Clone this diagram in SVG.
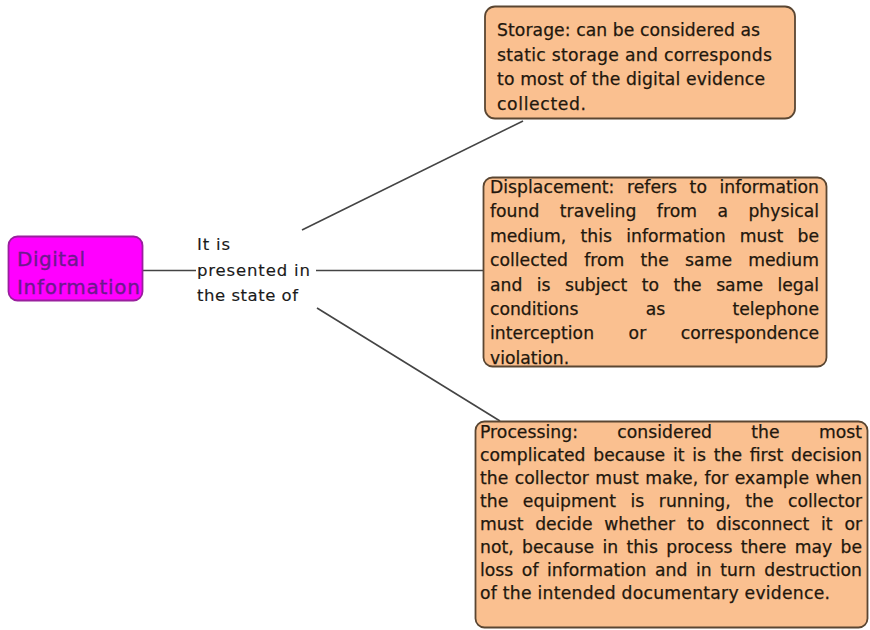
<svg xmlns="http://www.w3.org/2000/svg" width="870" height="630" viewBox="0 0 870 630">
  <style>
    .bg { fill: #ffffff; }
    .note { fill: #fac090; stroke: #5a4632; stroke-width: 1.8; }
    .root { fill: #ff00ff; stroke: #9a1f9e; stroke-width: 1.8; }
    .txt { font-family: "DejaVu Sans", "Liberation Sans", sans-serif; font-size: 17.2px; fill: #22170d; stroke: #22170d; stroke-width: 0.25; }
    .lbl { font-family: "DejaVu Sans", "Liberation Sans", sans-serif; font-size: 16.5px; fill: #1a1a1a; stroke: #1a1a1a; stroke-width: 0.15; }
    .rootTxt { font-family: "DejaVu Sans", "Liberation Sans", sans-serif; font-size: 20px; fill: #6c1a8c; stroke: #6c1a8c; stroke-width: 0.3; }
    .link { stroke: #444444; stroke-width: 1.6; fill: none; }
  </style>
  <rect class="bg" x="0" y="0" width="870" height="630"/>

  <!-- connectors -->
  <g id="connectors">
    <line class="link" x1="143" y1="270.5" x2="196" y2="270.5"/>
    <line class="link" x1="316" y1="270.5" x2="483" y2="270.5"/>
    <line class="link" x1="302" y1="230" x2="523" y2="121"/>
    <line class="link" x1="317" y1="308" x2="500" y2="421"/>
  </g>

  <!-- root node -->
  <g id="digital-information">
    <rect class="root" x="8.5" y="236.5" width="134" height="64" rx="9"/>
    <text class="rootTxt">
      <tspan x="17" y="266" textLength="68" lengthAdjust="spacing">Digital</tspan>
      <tspan x="17" y="294" textLength="123" lengthAdjust="spacing">Information</tspan>
    </text>
  </g>

  <!-- relation label -->
  <g id="relation-label">
    <text class="lbl">
      <tspan x="197" y="250" textLength="33" lengthAdjust="spacing">It is</tspan>
      <tspan x="197" y="276" textLength="113" lengthAdjust="spacing">presented in</tspan>
      <tspan x="197" y="301" textLength="101" lengthAdjust="spacing">the state of</tspan>
    </text>
  </g>

  <!-- storage -->
  <g id="storage">
    <rect class="note" x="485" y="6.5" width="310" height="112" rx="10"/>
    <text class="txt">
      <tspan x="497" y="36" textLength="263" lengthAdjust="spacing">Storage: can be considered as</tspan>
      <tspan x="497" y="60.5" textLength="275" lengthAdjust="spacing">static storage and corresponds</tspan>
      <tspan x="497" y="85" textLength="268" lengthAdjust="spacing">to most of the digital evidence</tspan>
      <tspan x="497" y="109.5" textLength="89" lengthAdjust="spacing">collected.</tspan>
    </text>
  </g>

  <!-- displacement (justified lines: word-spacing plus exact line length) -->
  <g id="displacement">
    <rect class="note" x="483.5" y="177.5" width="343" height="189" rx="9"/>
    <text class="txt">
      <tspan x="490" y="193" textLength="329" lengthAdjust="spacing" style="word-spacing:7px">Displacement: refers to information</tspan>
      <tspan x="490" y="217.4" textLength="329" lengthAdjust="spacing" style="word-spacing:15px">found traveling from a physical</tspan>
      <tspan x="490" y="241.8" textLength="329" lengthAdjust="spacing" style="word-spacing:8.8px">medium, this information must be</tspan>
      <tspan x="490" y="266.2" textLength="329" lengthAdjust="spacing" style="word-spacing:10.8px">collected from the same medium</tspan>
      <tspan x="490" y="290.6" textLength="329" lengthAdjust="spacing" style="word-spacing:9px">and is subject to the same legal</tspan>
      <tspan x="490" y="315" textLength="329" lengthAdjust="spacing" style="word-spacing:61.8px">conditions as telephone</tspan>
      <tspan x="490" y="339.4" textLength="329" lengthAdjust="spacing" style="word-spacing:29px">interception or correspondence</tspan>
      <tspan x="490" y="363.8">violation.</tspan>
    </text>
  </g>

  <!-- processing -->
  <g id="processing">
    <rect class="note" x="475.5" y="421.5" width="392" height="206" rx="9"/>
    <text class="txt">
      <tspan x="480" y="438" textLength="382" lengthAdjust="spacing" style="word-spacing:33.8px">Processing: considered the most</tspan>
      <tspan x="480" y="461" textLength="382" lengthAdjust="spacing" style="word-spacing:2.3px">complicated because it is the first decision</tspan>
      <tspan x="480" y="484" textLength="382" lengthAdjust="spacing" style="word-spacing:1px">the collector must make, for example when</tspan>
      <tspan x="480" y="507" textLength="382" lengthAdjust="spacing" style="word-spacing:9.1px">the equipment is running, the collector</tspan>
      <tspan x="480" y="530" textLength="382" lengthAdjust="spacing" style="word-spacing:6.3px">must decide whether to disconnect it or</tspan>
      <tspan x="480" y="553" textLength="382" lengthAdjust="spacing" style="word-spacing:2.8px">not, because in this process there may be</tspan>
      <tspan x="480" y="576" textLength="382" lengthAdjust="spacing" style="word-spacing:3.1px">loss of information and in turn destruction</tspan>
      <tspan x="480" y="599" textLength="350" lengthAdjust="spacing">of the intended documentary evidence.</tspan>
    </text>
  </g>
</svg>
